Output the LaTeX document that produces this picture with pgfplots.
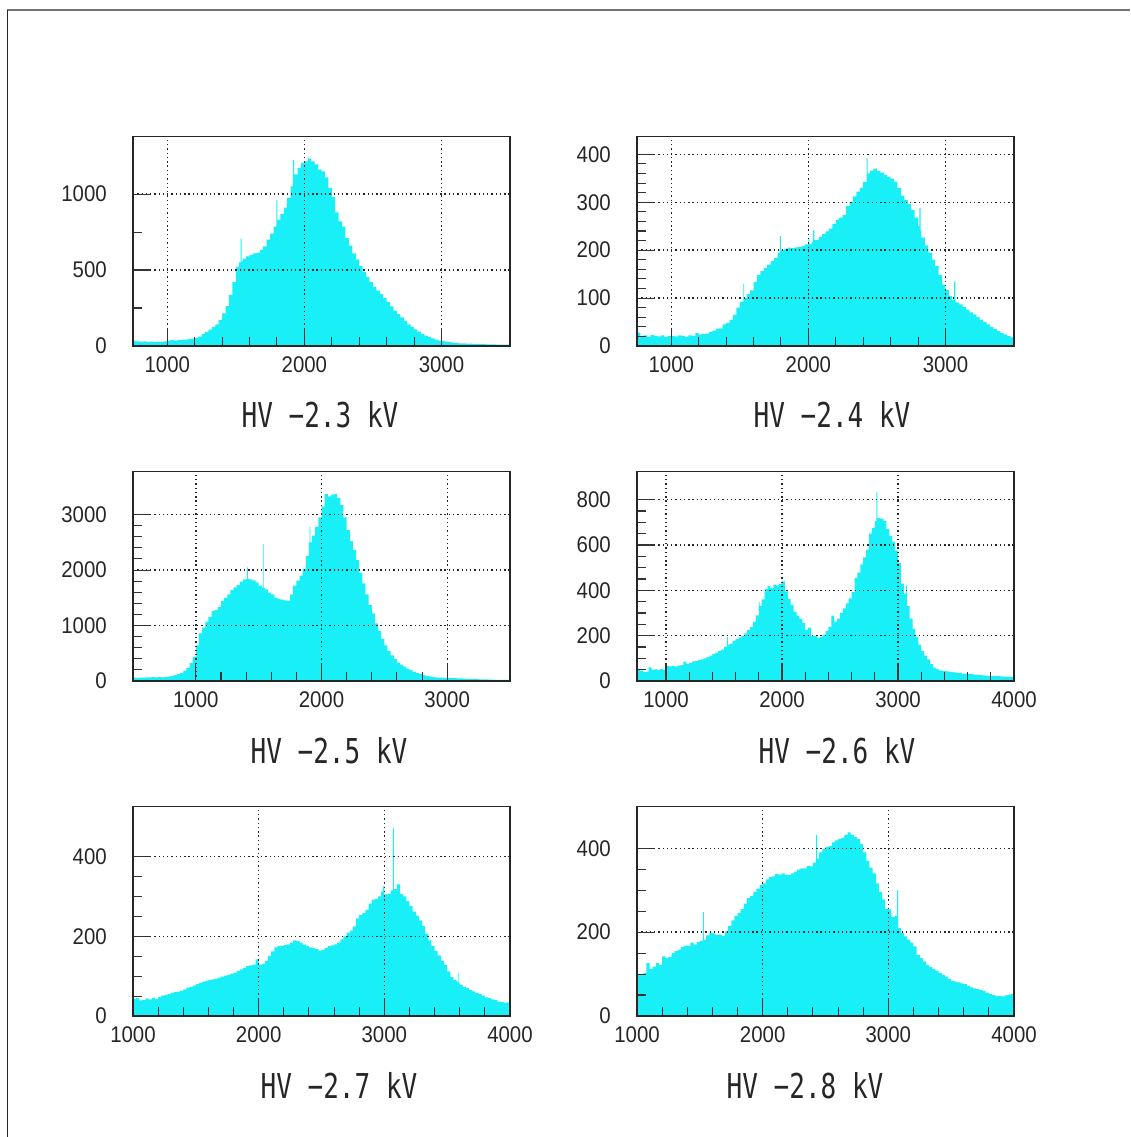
\documentclass[border=0pt]{standalone}
\usepackage{fontspec}
\usepackage{pgfplots}
\pgfplotsset{compat=1.18}
\setmainfont[FakeStretch=0.9]{Liberation Sans}
\newfontfamily\titlefont[FakeStretch=0.76]{DejaVu Sans Mono}
\definecolor{hcyan}{RGB}{25,239,246}
\pgfplotsset{
  hist/.style={
    scale only axis, width=282.75pt, height=157.25pt, anchor=south west,
    axis on top, grid=major,
    major grid style={line width=1pt, black!85, dash pattern=on 1pt off 2.2pt},
    tick align=inside, tick pos=left,
    major tick length=12.5pt, minor tick length=6.75pt,
    tick style={black!80, line width=0.8pt},
    axis line style={black!85, line width=0.8pt},
    tick label style={font=\fontsize{17}{18}\selectfont, text=black!85},
    xticklabel style={inner sep=0pt, yshift=-8pt},
    yticklabel style={inner sep=0pt, xshift=-19.5pt},
    /pgf/number format/assume math mode=true,
    /pgf/number format/set thousands separator={},
    scaled ticks=false, ymin=0, minor x tick num=4,
  },
  hbar/.style={const plot, fill=hcyan, draw=none},
}
\tikzset{ttl/.style={font=\titlefont\fontsize{25.7}{28}\selectfont, anchor=base, text=black!85, inner sep=0pt}}
\begin{document}
\begin{tikzpicture}
\path[use as bounding box] (0,0) rectangle (847.5pt,852.75pt);
\draw[black!55, line width=1.5pt] (5.25pt,845.25pt) -- (847.5pt,845.25pt);
\draw[black!85, line width=0.9pt] (5.5pt,0pt) -- (5.5pt,845.25pt);

% HV -2.3 kV
\begin{axis}[hist, at={(99.75pt,593.25pt)}, xmin=750, xmax=3500, ymax=1380,
  xtick={1000,2000,3000}, ytick={0,500,1000}, minor y tick num=1]
\addplot[hbar] coordinates {(750,33)(775,30)(800,28)(825,30)(850,27)(875,29)(900,26)(925,28)(950,27)(975,30)(1000,36)(1025,38)(1050,35)(1075,40)(1100,38)(1125,42)(1150,45)(1175,48)(1200,52)(1225,62)(1250,78)(1275,92)(1300,108)(1325,125)(1350,142)(1375,170)(1400,215)(1425,262)(1450,335)(1475,420)(1500,520)(1525,550)(1535,706)(1542,555)(1550,575)(1575,590)(1600,600)(1625,610)(1650,615)(1675,635)(1700,655)(1725,700)(1750,740)(1775,785)(1795,960)(1803,830)(1825,870)(1850,910)(1875,975)(1900,1050)(1917,1225)(1925,1130)(1950,1170)(1975,1205)(2000,1215)(2025,1235)(2050,1215)(2075,1195)(2100,1160)(2125,1150)(2150,1110)(2175,1040)(2200,980)(2225,880)(2250,820)(2275,785)(2300,710)(2325,660)(2350,610)(2375,570)(2400,525)(2425,490)(2450,455)(2475,420)(2500,390)(2525,365)(2550,342)(2575,315)(2600,288)(2625,260)(2650,232)(2675,210)(2700,188)(2725,165)(2750,143)(2775,125)(2800,110)(2825,95)(2850,80)(2875,68)(2900,58)(2925,50)(2950,42)(2975,35)(3000,32)(3025,28)(3050,25)(3075,22)(3100,20)(3125,18)(3150,17)(3175,16)(3200,15)(3225,14)(3250,13)(3275,12)(3300,12)(3325,11)(3350,10)(3375,10)(3400,9)(3425,9)(3450,9)(3475,9)(3500,9)} \closedcycle;
\end{axis}

% HV -2.4 kV
\begin{axis}[hist, at={(477.75pt,593.25pt)}, xmin=750, xmax=3500, ymax=437.5,
  xtick={1000,2000,3000}, ytick={0,100,200,300,400}, minor y tick num=4]
\addplot[hbar] coordinates {(750,28)(775,20)(800,22)(825,19)(850,23)(875,21)(900,20)(925,22)(950,19)(975,21)(1000,21)(1025,20)(1050,22)(1075,21)(1100,19)(1125,22)(1150,21)(1175,27)(1200,24)(1225,25)(1250,26)(1275,29)(1300,32)(1325,36)(1350,37)(1375,45)(1400,48)(1425,54)(1450,65)(1475,80)(1500,92)(1525,130)(1532,100)(1550,108)(1575,116)(1600,134)(1625,148)(1650,156)(1675,163)(1700,170)(1725,177)(1750,184)(1775,195)(1792,229)(1800,200)(1825,203)(1850,205)(1875,204)(1900,206)(1925,207)(1950,209)(1975,212)(2000,226)(2008,213)(2025,218)(2035,241)(2043,221)(2050,221)(2075,227)(2100,234)(2125,239)(2150,245)(2175,255)(2200,263)(2225,268)(2250,273)(2275,292)(2300,300)(2325,312)(2350,322)(2375,330)(2400,342)(2425,392)(2433,360)(2450,366)(2475,370)(2500,365)(2525,362)(2550,357)(2575,353)(2600,349)(2625,343)(2650,330)(2675,314)(2700,305)(2725,296)(2750,284)(2775,268)(2800,250)(2810,288)(2818,240)(2825,226)(2850,210)(2875,195)(2900,180)(2925,167)(2950,148)(2975,128)(3000,117)(3025,104)(3050,96)(3064,135)(3072,93)(3075,91)(3100,87)(3125,81)(3150,76)(3175,70)(3200,66)(3225,60)(3250,55)(3275,50)(3300,45)(3325,40)(3350,35)(3375,31)(3400,27)(3425,24)(3450,21)(3475,18)(3500,18)} \closedcycle;
\end{axis}

% HV -2.5 kV
\begin{axis}[hist, at={(99.75pt,342pt)}, xmin=500, xmax=3500, ymax=3780,
  xtick={1000,2000,3000}, ytick={0,1000,2000,3000}, minor y tick num=4]
\addplot[hbar] coordinates {(500,61)(525,58)(550,62)(575,60)(600,66)(625,64)(650,68)(675,65)(700,70)(725,66)(750,72)(775,80)(800,90)(825,105)(850,122)(875,145)(900,185)(925,230)(950,320)(975,430)(1000,640)(1025,860)(1050,960)(1075,1070)(1100,1150)(1125,1260)(1150,1280)(1175,1330)(1200,1440)(1225,1500)(1250,1560)(1275,1640)(1300,1690)(1325,1730)(1350,1790)(1375,1830)(1400,1840)(1408,2048)(1415,1840)(1425,1830)(1450,1815)(1475,1780)(1500,1720)(1525,1680)(1533,2473)(1540,1680)(1550,1650)(1575,1595)(1600,1560)(1625,1505)(1650,1475)(1675,1465)(1700,1455)(1725,1450)(1750,1560)(1775,1720)(1800,1810)(1825,1900)(1850,2020)(1875,2250)(1900,2500)(1905,2776)(1912,2500)(1925,2620)(1950,2780)(1975,2950)(2000,3150)(2025,3370)(2050,3330)(2075,3360)(2100,3370)(2125,3300)(2150,3170)(2175,2950)(2200,2720)(2225,2520)(2250,2360)(2275,2180)(2300,1950)(2325,1760)(2350,1560)(2375,1370)(2400,1220)(2425,1040)(2450,900)(2475,760)(2500,640)(2525,545)(2550,460)(2575,395)(2600,330)(2625,295)(2650,260)(2675,225)(2700,195)(2725,165)(2750,142)(2775,125)(2800,105)(2825,92)(2850,82)(2875,72)(2900,66)(2925,62)(2950,60)(2975,57)(3000,55)(3025,52)(3050,50)(3075,48)(3100,45)(3125,42)(3150,40)(3175,38)(3200,36)(3225,33)(3250,31)(3275,29)(3300,27)(3325,25)(3350,23)(3375,22)(3400,20)(3425,19)(3450,18)(3475,18)(3500,18)} \closedcycle;
\end{axis}

% HV -2.6 kV
\begin{axis}[hist, at={(477.75pt,342pt)}, xmin=750, xmax=4000, ymax=925,
  xtick={1000,2000,3000,4000}, ytick={0,200,400,600,800}, minor y tick num=3]
\addplot[hbar] coordinates {(750,48)(775,46)(800,40)(825,41)(850,60)(875,50)(900,51)(925,49)(950,52)(975,50)(1000,66)(1025,64)(1050,67)(1075,65)(1100,68)(1125,70)(1150,85)(1175,74)(1200,80)(1225,86)(1250,88)(1275,92)(1300,95)(1325,100)(1350,106)(1375,112)(1400,120)(1425,125)(1450,132)(1475,138)(1500,150)(1525,195)(1533,160)(1550,165)(1575,178)(1600,185)(1625,192)(1650,198)(1675,210)(1700,224)(1725,238)(1750,262)(1775,290)(1800,349)(1808,330)(1825,360)(1850,405)(1875,418)(1900,410)(1925,425)(1950,422)(1975,430)(2000,440)(2025,395)(2050,362)(2075,335)(2100,305)(2125,288)(2150,275)(2175,255)(2200,225)(2225,235)(2250,198)(2275,200)(2300,190)(2325,195)(2350,205)(2375,220)(2400,238)(2425,288)(2450,262)(2475,275)(2500,300)(2525,320)(2550,342)(2575,365)(2600,392)(2625,455)(2650,478)(2675,515)(2700,545)(2725,580)(2750,650)(2775,675)(2800,705)(2814,832)(2822,720)(2850,715)(2875,705)(2900,670)(2925,640)(2950,615)(2975,575)(3000,520)(3025,430)(3050,385)(3068,422)(3076,330)(3100,275)(3125,230)(3150,195)(3175,160)(3200,132)(3225,112)(3250,95)(3275,75)(3300,60)(3325,53)(3350,47)(3375,45)(3400,43)(3425,41)(3450,40)(3475,38)(3500,36)(3525,35)(3550,33)(3575,32)(3600,31)(3625,30)(3650,28)(3675,27)(3700,26)(3725,25)(3750,24)(3775,23)(3800,22)(3825,22)(3850,21)(3875,20)(3900,19)(3925,19)(3950,18)(3975,18)(4000,18)} \closedcycle;
\end{axis}

% HV -2.7 kV
\begin{axis}[hist, at={(99.75pt,90.75pt)}, xmin=1000, xmax=4000, ymax=526,
  xtick={1000,2000,3000,4000}, ytick={0,200,400}, minor y tick num=3]
\addplot[hbar] coordinates {(1000,43)(1025,45)(1050,39)(1075,40)(1100,44)(1125,42)(1150,45)(1175,43)(1200,48)(1225,51)(1250,53)(1275,55)(1300,58)(1325,60)(1350,61)(1375,63)(1400,67)(1425,71)(1450,73)(1475,76)(1500,80)(1525,83)(1550,86)(1575,88)(1600,90)(1625,92)(1650,94)(1675,96)(1700,99)(1725,101)(1750,103)(1775,106)(1800,108)(1825,113)(1850,117)(1875,121)(1900,125)(1925,127)(1950,129)(1975,142)(2000,129)(2025,130)(2050,138)(2075,150)(2100,162)(2125,172)(2150,175)(2175,176)(2200,178)(2225,180)(2250,184)(2275,190)(2300,188)(2325,184)(2350,179)(2375,176)(2400,172)(2425,170)(2450,168)(2475,164)(2500,166)(2525,171)(2550,175)(2575,177)(2600,180)(2625,184)(2650,192)(2675,200)(2700,209)(2725,214)(2750,225)(2775,245)(2800,254)(2825,258)(2850,266)(2875,282)(2900,292)(2925,294)(2950,300)(2975,312)(2988,325)(3000,305)(3025,306)(3050,315)(3068,471)(3075,318)(3100,330)(3125,306)(3150,300)(3175,288)(3200,276)(3225,262)(3250,252)(3275,240)(3300,226)(3325,206)(3350,190)(3375,175)(3400,163)(3425,152)(3450,138)(3475,128)(3500,112)(3525,98)(3550,90)(3575,86)(3585,108)(3592,84)(3600,78)(3625,73)(3650,70)(3675,65)(3700,62)(3725,58)(3750,55)(3775,51)(3800,47)(3825,45)(3850,42)(3875,40)(3900,36)(3925,35)(3950,33)(3975,34)(4000,34)} \closedcycle;
\end{axis}

% HV -2.8 kV
\begin{axis}[hist, at={(477.75pt,90.75pt)}, xmin=1000, xmax=4000, ymax=500,
  xtick={1000,2000,3000,4000}, ytick={0,200,400}, minor y tick num=3]
\addplot[hbar] coordinates {(1000,100)(1025,98)(1050,102)(1075,126)(1100,112)(1125,118)(1150,126)(1175,122)(1200,142)(1225,138)(1250,141)(1275,150)(1300,155)(1325,158)(1350,165)(1375,168)(1400,167)(1425,175)(1450,170)(1475,176)(1500,180)(1525,248)(1533,182)(1550,192)(1575,199)(1600,197)(1625,193)(1650,194)(1675,191)(1700,202)(1725,215)(1750,228)(1775,238)(1800,246)(1825,255)(1850,268)(1875,281)(1900,286)(1925,296)(1950,303)(1975,312)(2000,316)(2025,326)(2050,331)(2075,333)(2100,339)(2125,337)(2150,340)(2175,337)(2200,336)(2225,340)(2250,344)(2275,349)(2300,352)(2325,352)(2350,358)(2375,357)(2400,366)(2425,432)(2433,375)(2450,390)(2475,398)(2500,403)(2525,405)(2550,414)(2575,419)(2600,422)(2625,425)(2650,432)(2675,438)(2700,432)(2725,427)(2750,422)(2775,410)(2800,390)(2825,370)(2850,354)(2875,340)(2900,316)(2925,296)(2950,278)(2975,255)(3000,254)(3025,236)(3050,238)(3070,300)(3078,210)(3100,198)(3125,190)(3150,182)(3175,175)(3200,166)(3225,146)(3250,138)(3275,130)(3300,122)(3325,117)(3350,112)(3375,108)(3400,102)(3425,98)(3450,94)(3475,88)(3500,84)(3525,82)(3550,80)(3575,78)(3600,76)(3625,72)(3650,68)(3675,66)(3700,64)(3725,62)(3750,60)(3775,56)(3800,52)(3825,50)(3850,48)(3875,48)(3900,47)(3925,49)(3950,51)(3975,52)(4000,52)} \closedcycle;
\end{axis}

\node[ttl] at (240pt,531.75pt) {HV −2.3 kV};
\node[ttl] at (624pt,531.75pt) {HV −2.4 kV};
\node[ttl] at (246.75pt,279.75pt) {HV −2.5 kV};
\node[ttl] at (627.75pt,279.75pt) {HV −2.6 kV};
\node[ttl] at (254.25pt,28.5pt) {HV −2.7 kV};
\node[ttl] at (603.75pt,28.5pt) {HV −2.8 kV};
\end{tikzpicture}
\end{document}
